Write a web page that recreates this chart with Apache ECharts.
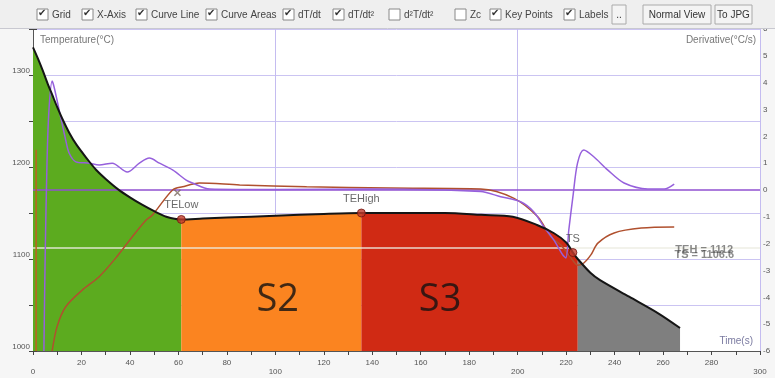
<!DOCTYPE html>
<html><head><meta charset="utf-8">
<script src="https://cdn.jsdelivr.net/npm/echarts@6/dist/echarts.min.js"></script>
<style>html,body{margin:0;padding:0;background:#f6f6f6}#c{width:775px;height:378px}</style>
</head><body><div id="c"></div>
<script>
// Cooling curve (time s, temperature °C)
const curveTime = [0,2,4,6,8,10,12,15,18,22,26,30,35,40,45,50,55,61.2,70,80,100,120,135.5,150,170,185,198,208,215,220,222.8,224.8,230,234,246,258,267];
const curveTemp = [1330,1318,1305,1291,1278,1265,1253,1237,1224,1210,1197,1187,1176,1167,1159,1152,1146,1143,1144,1145,1147,1149,1150,1150,1150,1148,1146,1137,1128,1118,1107,1100,1085,1077,1059,1041,1025];
// dT/dt (right axis)
const dTdtTime = [4.5,5.0,5.8,6.6,7.9,8.7,10.8,13.5,14.9,17.7,23.2,27.3,32.7,38.9,43.9,48,52.2,57.6,63.2,65.8,72.9,100,140,184.7,193,201.2,206.6,210.8,214.9,218.6,219.9,221.1,222.8,224.7,227.3,231.4,237.1,243.9,253.7,260.5,264.6];
const dTdtVal  = [-6,-2.6,1.1,3.0,4.06,3.84,2.98,1.86,1.38,1.05,1.0,0.93,1.0,0.67,1.0,1.19,1.0,0.75,0.37,0.26,0.04,0.02,0.04,-0.06,-0.25,-0.44,-0.81,-1.37,-1.86,-2.42,-2.53,-1.49,-0.25,1.0,1.49,1.24,0.75,0.26,0.04,0.04,0.22];
// second curve (right axis)
const d2Time = [7.9,9.9,13.5,20.3,27.3,34.2,41,46.7,49.3,57.6,61.7,68.7,85.3,112.9,147.4,184.7,198.3,208.3,213.7,217.8,222,224.8,227.3,230.2,233.1,239.8,251,264.6];
const d2Val  = [-6,-5.1,-4.35,-3.73,-3.23,-2.53,-1.74,-1.12,-0.93,0,0.12,0.26,0.19,0.12,0.07,0.04,-0.3,-1.0,-1.75,-2.05,-2.53,-2.8,-2.72,-2.42,-1.98,-1.6,-1.42,-1.38];
const spikeTime = [1.3,1.3];
const spikeVal = [-6,1.5];
// key points
const keyNames = ['TELow','TEHigh','TS'];
const keyTime = [61.2,135.5,222.8];
const keyTemp = [1143,1150,1107];
const crossTime = [59.6];
const crossTemp = [1172];
// zones
const zoneBounds = [0,61.2,135.5,224.8,267];
const zoneColors = ['#5cab1f','#fb8420','#d02a14','#7f7f7f'];
const zoneNames = ['S2','S3'];
const zoneNameTime = [101,168];
const zoneNameTemp = [1055,1055];
// reference lines
const refTemp = [1112];
const refText = ['TEH = 1112','TS = 1106.6'];
const refTextTime = [277,277];
const refTextTemp = [1110,1104];
// axis ticks
const xTickStep = 10, xLabelStep = 20;
const tempMin = 1000, tempMax = 1350, tempStep = 50;
const derMin = -6, derMax = 6, derStep = 1;

const pts = (xs, ys) => xs.map((x,i)=>[x, ys[i]]);
const curve = pts(curveTime, curveTemp);

const areaSeries = zoneColors.map((col, i) => ({
  type:'line', xAxisIndex:0, yAxisIndex:0, symbol:'none', smooth:0.3, silent:true, z:1,
  lineStyle:{width:0}, areaStyle:{color:col, opacity:1, origin:'start'},
  data: curve.filter(p => p[0] >= zoneBounds[i] && p[0] <= zoneBounds[i+1])
}));

const toolbarItems = [
  {t:'Grid', on:true, x:37},{t:'X-Axis', on:true, x:82},{t:'Curve Line', on:true, x:136},
  {t:'Curve Areas', on:true, x:206},{t:'dT/dt', on:true, x:283},{t:'dT/dt²', on:true, x:333},
  {t:'d²T/dt²', on:false, x:389},{t:'Zc', on:false, x:455},{t:'Key Points', on:true, x:490},{t:'Labels', on:true, x:564}
];
const FONT = 'Liberation Sans';
const graphics = [
  {type:'rect', shape:{x:0,y:0,width:775,height:28}, style:{fill:'#efefef'}, z:100},
  {type:'line', shape:{x1:0,y1:28.5,x2:775,y2:28.5}, style:{stroke:'#c8c8d0', lineWidth:1}, z:100}
];
toolbarItems.forEach(it => {
  graphics.push({type:'rect', shape:{x:it.x, y:9, width:11, height:11}, style:{fill:'#fff', stroke:'#888', lineWidth:1}, z:101});
  if (it.on) graphics.push({type:'text', x:it.x+1, y:8, style:{text:'✔', fontSize:10, fill:'#333', font:'bold 10px DejaVu Sans'}, z:102});
  graphics.push({type:'text', x:it.x+15, y:10, style:{text:it.t, fontSize:10, fontFamily:FONT, fill:'#444'}, z:101});
});
[{t:'..', x:612, w:14},{t:'Normal View', x:643, w:68},{t:'To JPG', x:715, w:37}].forEach(b => {
  graphics.push({type:'rect', shape:{x:b.x, y:5, width:b.w, height:19}, style:{fill:'#f4f4f4', stroke:'#aaa', lineWidth:1}, z:101});
  graphics.push({type:'text', x:b.x+b.w/2, y:15, style:{text:b.t, fontSize:10, fontFamily:FONT, fill:'#333', align:'center', verticalAlign:'middle'}, z:102});
});
graphics.push({type:'text', left:40, top:35, style:{text:'Temperature(°C)', fontSize:10, fontFamily:FONT, fill:'#777'}, z:50});
graphics.push({type:'text', right:19, top:35, style:{text:'Derivative(°C/s)', fontSize:10, fontFamily:FONT, fill:'#777'}, z:50});
graphics.push({type:'text', right:22, top:336, style:{text:'Time(s)', fontSize:10, fontFamily:FONT, fill:'#7a7aa0'}, z:50});

const option = {
  animation:false,
  backgroundColor:'#f6f6f6',
  grid:{left:33, right:15, top:29, bottom:27, show:true, backgroundColor:'#ffffff', borderWidth:0},
  xAxis:[
    {type:'value', min:0, max:300, interval:xTickStep,
     axisLine:{show:true, onZero:false, lineStyle:{color:'#555'}}, axisTick:{length:4, lineStyle:{color:'#444'}},
     axisLabel:{fontSize:8, color:'#555', fontFamily:FONT, margin:7, lineHeight:9,
       formatter:v => (v % xLabelStep) ? '' : ((v % 100 === 0) ? '\n' + v : '' + v)},
     splitLine:{show:false}},
    {type:'value', min:0, max:300, interval:100, position:'bottom',
     axisLine:{show:false, onZero:false}, axisTick:{show:false}, axisLabel:{show:false},
     splitLine:{show:true, lineStyle:{color:'#c4bcf0', width:1}}}
  ],
  yAxis:[
    {type:'value', min:tempMin, max:tempMax, interval:tempStep, position:'left',
     axisLine:{show:true, lineStyle:{color:'#555'}}, axisTick:{length:4, lineStyle:{color:'#444'}},
     axisLabel:{fontSize:8, color:'#555', fontFamily:FONT, margin:3, verticalAlign:'bottom',
       formatter:v => (v % 100) ? '' : '' + v},
     splitLine:{show:true, lineStyle:{color:'#cbc4f2', width:1}}},
    {type:'value', min:derMin, max:derMax, interval:derStep, position:'right',
     axisLine:{show:true, lineStyle:{color:'#555'}}, axisTick:{length:4, lineStyle:{color:'#444'}},
     axisLabel:{fontSize:8, color:'#555', fontFamily:FONT, margin:3},
     splitLine:{show:false}}
  ],
  graphic:graphics,
  series:[
    ...areaSeries,
    {type:'line', xAxisIndex:0, yAxisIndex:0, symbol:'none', silent:true, z:5,
     lineStyle:{width:0}, data:[],
     markLine:{symbol:'none', silent:true, label:{show:false},
       lineStyle:{color:'rgba(235,235,225,0.9)', width:1.5, type:'solid'},
       data:refTemp.map(v=>({yAxis:v}))}},
    {type:'line', xAxisIndex:0, yAxisIndex:1, symbol:'none', silent:true, z:6,
     lineStyle:{width:0}, data:[],
     markLine:{symbol:'none', silent:true, label:{show:false},
       lineStyle:{color:'#9050d0', width:1.5, type:'solid'}, data:[{yAxis:0}]}},
    {type:'line', xAxisIndex:0, yAxisIndex:1, symbol:'none', smooth:0.3, z:7,
     lineStyle:{color:'#b0502e', width:1.5}, data:pts(d2Time, d2Val)},
    {type:'line', xAxisIndex:0, yAxisIndex:1, symbol:'none', z:7,
     lineStyle:{color:'#c06020', width:1.5}, data:pts(spikeTime, spikeVal)},
    {type:'line', xAxisIndex:0, yAxisIndex:1, symbol:'none', smooth:0.3, z:8,
     lineStyle:{color:'#9660dc', width:1.5}, data:pts(dTdtTime, dTdtVal)},
    {type:'line', xAxisIndex:0, yAxisIndex:0, symbol:'none', smooth:0.3, z:9,
     lineStyle:{color:'#151515', width:2}, data:curve},
    {type:'scatter', xAxisIndex:0, yAxisIndex:0, z:10, symbol:'path://M0,0L10,10M10,0L0,10', symbolSize:6,
     itemStyle:{color:'none', borderColor:'#7a6a60', borderWidth:1.5}, data:pts(crossTime, crossTemp)},
    {type:'scatter', xAxisIndex:0, yAxisIndex:0, z:11, symbolSize:8,
     itemStyle:{color:'#c0392b', borderColor:'#701510', borderWidth:1},
     label:{show:true, position:'top', distance:4, fontSize:11, fontFamily:FONT, color:'#444',
       formatter:p => keyNames[p.dataIndex]},
     data:pts(keyTime, keyTemp)},
    {type:'scatter', xAxisIndex:0, yAxisIndex:0, z:12, symbolSize:0, silent:true,
     label:{show:true, position:'inside', fontSize:38, fontFamily:'Open Sans', color:'#111',
       formatter:p => zoneNames[p.dataIndex]},
     data:pts(zoneNameTime, zoneNameTemp)},
    {type:'scatter', xAxisIndex:0, yAxisIndex:0, z:12, symbolSize:0, silent:true,
     label:{show:true, position:'inside', fontSize:11, fontWeight:'bold', fontFamily:FONT, color:'rgba(60,60,60,0.75)',
       formatter:p => refText[p.dataIndex]},
     data:pts(refTextTime, refTextTemp)}
  ]
};
echarts.init(document.getElementById('c')).setOption(option);
</script></body></html>
